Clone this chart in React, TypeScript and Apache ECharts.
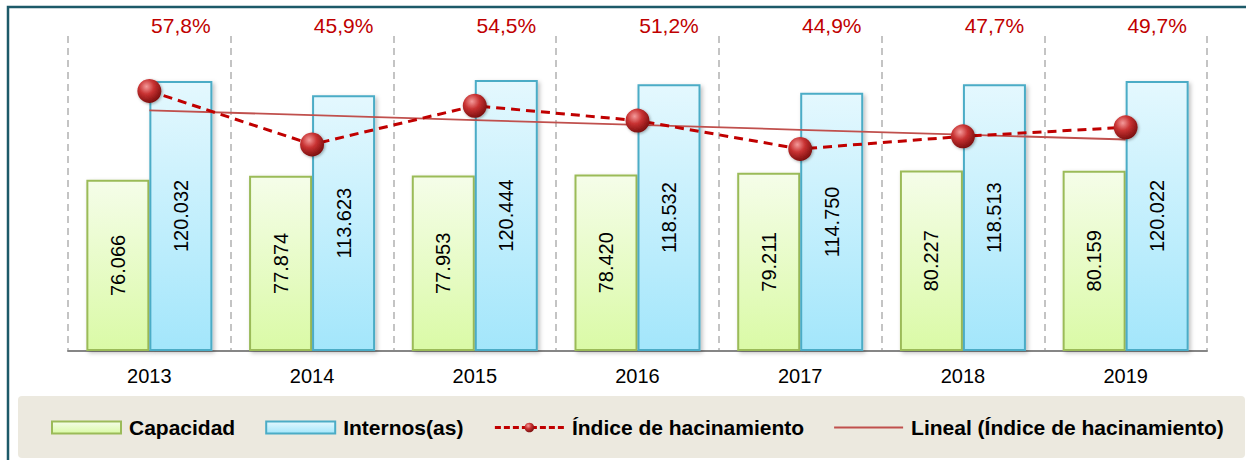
import React, { useEffect, useRef } from "react";
import * as echarts from "echarts";

const years = ["2013", "2014", "2015", "2016", "2017", "2018", "2019"];
const capacidad = [76066, 77874, 77953, 78420, 79211, 80227, 80159];
const internos = [120032, 113623, 120444, 118532, 114750, 118513, 120022];
const indice = [57.8, 45.9, 54.5, 51.2, 44.9, 47.7, 49.7];

const Y1_MAX = 140000;
const Y2_MAX = 70;
const BAR_W = 63;
const FONT = "'Liberation Sans', Arial, sans-serif";

const fmtThousands = (v: number) => String(v).replace(/\B(?=(\d{3})+(?!\d))/g, ".");
const fmtPct = (v: number) => v.toFixed(1).replace(".", ",") + "%";

// linear trend (least squares) of the index, like Excel's "Lineal" trendline
function linearTrend(vals: number[]) {
  const n = vals.length;
  const mx = (n - 1) / 2;
  const my = vals.reduce((a, b) => a + b, 0) / n;
  let sxy = 0, sxx = 0;
  vals.forEach((v, i) => { sxy += (i - mx) * (v - my); sxx += (i - mx) * (i - mx); });
  const slope = sxy / sxx;
  return vals.map((_, i) => +(my + slope * (i - mx)).toFixed(3));
}
const trend = linearTrend(indice);

export default function App() {
  const ref = useRef<HTMLDivElement>(null);
  useEffect(() => {
    if (!ref.current) return;
    const chart = echarts.init(ref.current, undefined, { renderer: "svg" });
    const capGrad = new echarts.graphic.LinearGradient(0, 0, 0, 1, [
      { offset: 0, color: "#F5FDE9" },
      { offset: 1, color: "#DAFAA6" },
    ]);
    const intGrad = new echarts.graphic.LinearGradient(0, 0, 0, 1, [
      { offset: 0, color: "#E4F8FE" },
      { offset: 1, color: "#A3E6FB" },
    ]);
    const sphere = new echarts.graphic.RadialGradient(0.38, 0.32, 0.7, [
      { offset: 0, color: "#F49A9A" },
      { offset: 0.45, color: "#C83232" },
      { offset: 1, color: "#7A0E0E" },
    ]);
    chart.setOption({
      animation: false,
      backgroundColor: "#ffffff",
      textStyle: { fontFamily: FONT },
      graphic: [
        {
          type: "rect",
          z: -10,
          shape: { x: 8, y: 7, width: 1260, height: 470 },
          style: { fill: "none", stroke: "#1D5A69", lineWidth: 2.5 },
        },
        {
          type: "rect",
          z: -5,
          shape: { x: 18, y: 396, width: 1227, height: 62, r: 4 },
          style: { fill: "#ECE9DF" },
        },
      ],
      grid: { left: 68, right: 39, top: 36, bottom: 109 },
      legend: {
        data: [
          { name: "Capacidad", icon: "rect" },
          { name: "Internos(as)", icon: "rect" },
          { name: "Índice de hacinamiento", lineStyle: { type: [6, 3], width: 3 } },
          { name: "Lineal (Índice de hacinamiento)", icon: "path://M0,0L69,0L69,2L0,2Z" },
        ],
        left: 51,
        top: 417,
        padding: 0,
        itemWidth: 69,
        itemHeight: 12,
        itemGap: 30,
        symbolKeepAspect: true,
        textStyle: {
          fontSize: 21,
          fontWeight: "bold",
          color: "#000",
          fontFamily: FONT,
          padding: [0, 0, 0, 3],
        },
      },
      xAxis: {
        type: "category",
        data: years,
        axisLine: { lineStyle: { color: "#868686", width: 2 } },
        axisTick: { length: 6, lineStyle: { color: "#868686", width: 1.5 } },
        axisLabel: { fontSize: 20, color: "#000", margin: 15, fontFamily: FONT },
        splitLine: { show: true, lineStyle: { color: "#C4C4C4", width: 2, type: [7, 5] } },
      },
      yAxis: [
        { type: "value", min: 0, max: Y1_MAX, show: false, splitLine: { show: false } },
        { type: "value", min: 0, max: Y2_MAX, show: false, splitLine: { show: false } },
      ],
      series: [
        {
          name: "Capacidad",
          type: "bar",
          data: capacidad,
          barWidth: BAR_W,
          barGap: "0%",
          itemStyle: {
            color: capGrad,
            borderColor: "#9BBB59",
            borderWidth: 2,
            shadowBlur: 4,
            shadowColor: "rgba(0,0,0,0.25)",
            shadowOffsetX: 2,
            shadowOffsetY: 2,
          },
          label: {
            show: true,
            position: "inside",
            rotate: 90,
            color: "#000",
            fontSize: 20,
            fontFamily: FONT,
            formatter: (p: any) => fmtThousands(p.value),
          },
        },
        {
          name: "Internos(as)",
          type: "bar",
          data: internos,
          barWidth: BAR_W,
          barGap: "0%",
          itemStyle: {
            color: intGrad,
            borderColor: "#4BACC6",
            borderWidth: 2,
            shadowBlur: 4,
            shadowColor: "rgba(0,0,0,0.25)",
            shadowOffsetX: 2,
            shadowOffsetY: 2,
          },
          label: {
            show: true,
            position: "inside",
            rotate: 90,
            color: "#000",
            fontSize: 20,
            fontFamily: FONT,
            formatter: (p: any) => fmtThousands(p.value),
          },
        },
        {
          name: "Lineal (Índice de hacinamiento)",
          type: "line",
          yAxisIndex: 1,
          data: trend,
          symbol: "none",
          z: 3,
          lineStyle: { color: "#C0504D", width: 1.8 },
          itemStyle: { color: "#C0504D" },
        },
        {
          name: "Índice de hacinamiento",
          type: "line",
          yAxisIndex: 1,
          data: indice,
          symbol: "circle",
          symbolSize: 24,
          z: 4,
          lineStyle: { color: "#C00000", width: 3, type: [9, 6] },
          itemStyle: { color: sphere, shadowBlur: 3, shadowColor: "rgba(0,0,0,0.35)", shadowOffsetX: 1, shadowOffsetY: 1 },
        },
        {
          name: "pct",
          type: "custom",
          yAxisIndex: 1,
          silent: true,
          z: 5,
          data: indice.map((v, i) => [i, v]),
          renderItem: (params: any, api: any) => {
            const pt = api.coord([api.value(0), Y2_MAX]);
            return {
              type: "text",
              x: pt[0] + BAR_W / 2,
              y: pt[1] - 11,
              style: {
                text: fmtPct(api.value(1)),
                fill: "#C00000",
                fontSize: 21,
                fontFamily: FONT,
                align: "center",
                verticalAlign: "middle",
              },
            };
          },
        },
      ],
    });
    return () => chart.dispose();
  }, []);
  return (
    <div
      ref={ref}
      style={{ position: "fixed", left: 0, top: 0, width: 1246, height: 460 }}
    />
  );
}
